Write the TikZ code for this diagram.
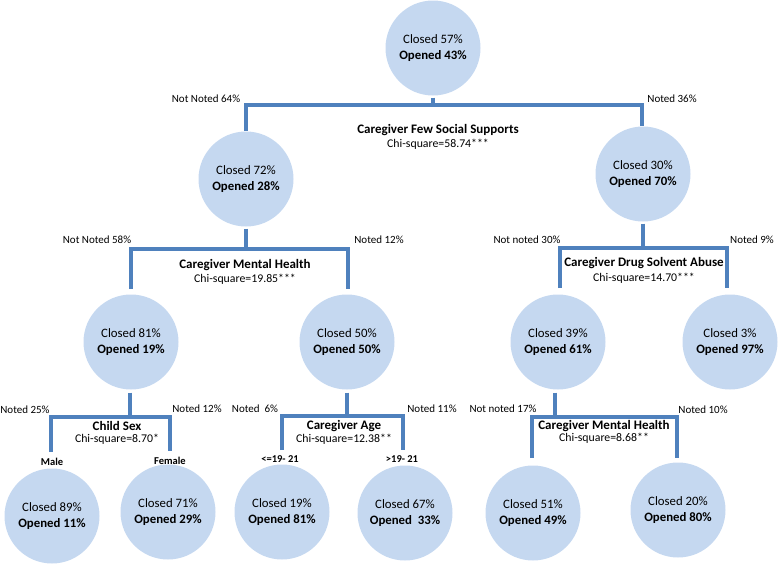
\documentclass[tikz,border=0pt]{standalone}
\usepackage{fontspec}
\setmainfont{Carlito}
\definecolor{cfill}{RGB}{197,216,240}
\definecolor{cline}{RGB}{79,129,189}
\tikzset{
  circ/.style={circle, fill=cfill, minimum size=95pt, inner sep=0pt, align=center, font=\fontsize{12.8}{15.5}\selectfont},
  conn/.style={draw=cline, line width=3.5pt},
  lbl/.style={font=\fontsize{11}{13}\selectfont, inner sep=0pt},
  head/.style={font=\fontsize{13}{15}\selectfont\bfseries, inner sep=0pt},
  chi/.style={font=\fontsize{11.8}{14}\selectfont, inner sep=0pt},
  grp/.style={font=\fontsize{10.5}{12}\selectfont\bfseries, inner sep=0pt}
}
\begin{document}
\begin{tikzpicture}[x=1pt,y=-1pt]
\useasboundingbox (0,0) rectangle (780,565);
% circles
\node[circ] (root) at (433,48) {Closed 57\%\\\textbf{Opened 43\%}};
\node[circ] (n1) at (246,179) {Closed 72\%\\\textbf{Opened 28\%}};
\node[circ] (n2) at (643,174) {Closed 30\%\\\textbf{Opened 70\%}};
\node[circ] (n11) at (131,342) {Closed 81\%\\\textbf{Opened 19\%}};
\node[circ] (n12) at (347,342) {Closed 50\%\\\textbf{Opened 50\%}};
\node[circ] (n21) at (558,342) {Closed 39\%\\\textbf{Opened 61\%}};
\node[circ] (n22) at (730,342) {Closed 3\%\\\textbf{Opened 97\%}};
\node[circ] (n111) at (52,516) {Closed 89\%\\\textbf{Opened 11\%}};
\node[circ] (n112) at (168,512) {Closed 71\%\\\textbf{Opened 29\%}};
\node[circ] (n121) at (282,512) {Closed 19\%\\\textbf{Opened 81\%}};
\node[circ] (n122) at (405,513) {Closed 67\%\\\textbf{Opened~ 33\%}};
\node[circ] (n211) at (533,513) {Closed 51\%\\\textbf{Opened 49\%}};
\node[circ] (n212) at (678,510) {Closed 20\%\\\textbf{Opened 80\%}};
% split 1
\coordinate (a1) at (433,105); \coordinate (a1L) at (246,105); \coordinate (a1R) at (642,105);
\coordinate (t1L) at (246,131); \coordinate (t1R) at (642,126);
\draw[conn] ([yshift=-2pt]root.south) -- (a1);
\draw[conn] (t1L) -- (a1L) -- (a1R) -- (t1R);
\node[lbl] (l1a) at (206,99) {Not Noted 64\%};
\node[lbl] (l1b) at (672,99) {Noted 36\%};
\node[head] (h1) at (438,130) {Caregiver Few Social Supports};
\node[chi] (c1) at (438,144) {Chi-square=58.74***};
% split 2 left
\coordinate (a2) at (246,249); \coordinate (a2L) at (131,249); \coordinate (a2R) at (348,249);
\coordinate (t2L) at (131,289); \coordinate (t2R) at (348,289);
\draw[conn] ([yshift=-2pt]n1.south) -- (a2);
\draw[conn] (t2L) -- (a2L) -- (a2R) -- (t2R);
\node[lbl] (l2a) at (97,240) {Not Noted 58\%};
\node[lbl] (l2b) at (379,240) {Noted 12\%};
\node[head] (h2) at (245,265) {Caregiver Mental Health};
\node[chi] (c2) at (245,279) {Chi-square=19.85***};
% split 2 right
\coordinate (a3) at (643,248); \coordinate (a3L) at (560,248); \coordinate (a3R) at (727,248);
\coordinate (t3L) at (560,288); \coordinate (t3R) at (727,288);
\draw[conn] ([yshift=-2pt]n2.south) -- (a3);
\draw[conn] (t3L) -- (a3L) -- (a3R) -- (t3R);
\node[lbl] (l3a) at (527,240) {Not noted 30\%};
\node[lbl] (l3b) at (752,240) {Noted 9\%};
\node[head] (h3) at (644,263) {Caregiver Drug Solvent Abuse};
\node[chi] (c3) at (644,278) {Chi-square=14.70***};
% child sex
\coordinate (a4) at (130,417); \coordinate (a4L) at (51,417); \coordinate (a4R) at (170,417);
\coordinate (t4L) at (51,452); \coordinate (t4R) at (170,451);
\draw[conn] ([yshift=-3pt]a4 |- n11.south) -- (a4);
\draw[conn] (t4L) -- (a4L) -- (a4R) -- (t4R);
\node[lbl] (l4a) at (25,410) {Noted 25\%};
\node[lbl] (l4b) at (197,409) {Noted 12\%};
\node[head] (h4) at (117,426) {Child Sex};
\node[chi] (c4) at (117,439) {Chi-square=8.70*};
\node[grp] (g4a) at (52,462) {Male};
\node[grp] (g4b) at (170,461) {Female};
% caregiver age
\coordinate (a5) at (347,416); \coordinate (a5L) at (282,416); \coordinate (a5R) at (403,416);
\coordinate (t5L) at (282,450); \coordinate (t5R) at (403,450);
\draw[conn] ([yshift=-3pt]a5 |- n12.south) -- (a5);
\draw[conn] (t5L) -- (a5L) -- (a5R) -- (t5R);
\node[lbl] (l5a) at (255,409) {Noted~ 6\%};
\node[lbl] (l5b) at (432,409) {Noted 11\%};
\node[head] (h5) at (344,426) {Caregiver Age};
\node[chi] (c5) at (344,439) {Chi-square=12.38**};
\node[grp] (g5a) at (280,459) {<=19- 21};
\node[grp] (g5b) at (402,459) {>19- 21};
% caregiver mental health (right)
\coordinate (a6) at (555,417); \coordinate (a6L) at (532,417); \coordinate (a6R) at (677,417);
\coordinate (t6L) at (532,458); \coordinate (t6R) at (677,458);
\draw[conn] ([yshift=-3pt]a6 |- n21.south) -- (a6);
\draw[conn] (t6L) -- (a6L) -- (a6R) -- (t6R);
\node[lbl] (l6a) at (503,409) {Not noted 17\%};
\node[lbl] (l6b) at (703,410) {Noted 10\%};
\node[head] (h6) at (604,426) {Caregiver Mental Health};
\node[chi] (c6) at (604,438) {Chi-square=8.68**};
\end{tikzpicture}
\end{document}
